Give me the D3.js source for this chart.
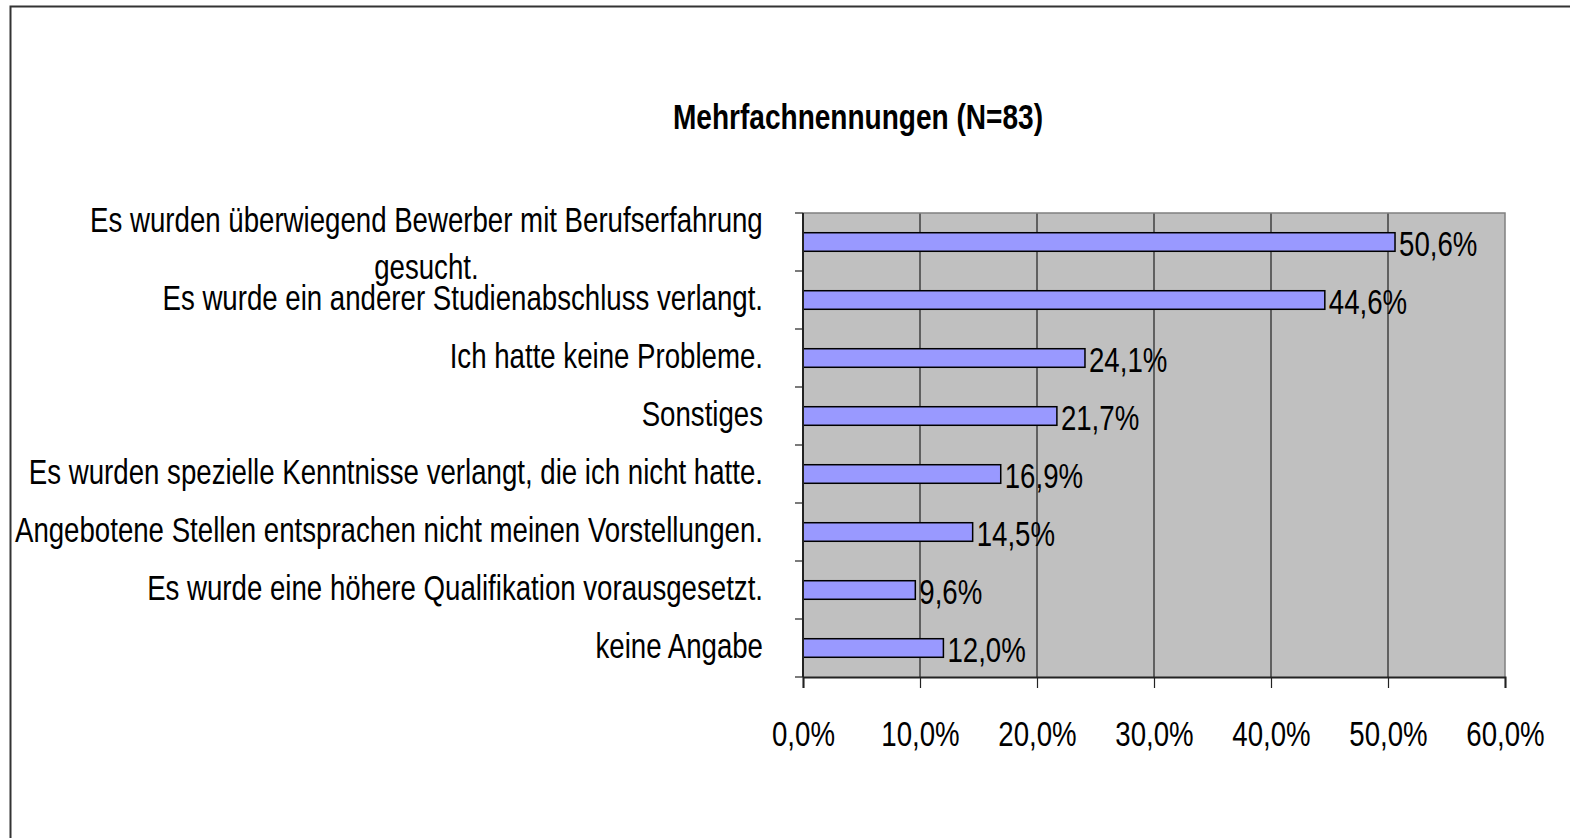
<!DOCTYPE html>
<html>
<head>
<meta charset="utf-8">
<script src="https://cdn.jsdelivr.net/npm/d3@7"></script>
<style>
    body { margin: 0; background: #fff; }
    svg { display: block; font-family: "Liberation Sans", Arial, sans-serif; }
</style>
</head>
<body>
<svg id="chart" width="1570" height="838"></svg>
<script>
// chart data
const categories = [
    'Es wurden überwiegend Bewerber mit Berufserfahrung gesucht.',
    'Es wurde ein anderer Studienabschluss verlangt.',
    'Ich hatte keine Probleme.',
    'Sonstiges',
    'Es wurden spezielle Kenntnisse verlangt, die ich nicht hatte.',
    'Angebotene Stellen entsprachen nicht meinen Vorstellungen.',
    'Es wurde eine höhere Qualifikation vorausgesetzt.',
    'keine Angabe'
];
const values = [50.6, 44.6, 24.1, 21.7, 16.9, 14.5, 9.6, 12.0];
const xTicks = [0, 10, 20, 30, 40, 50, 60];
const title = 'Mehrfachnennungen (N=83)';

const SX = 0.79; // text is drawn horizontally condensed
const fmt = v => v.toFixed(1).replace('.', ',') + '%';

const svg = d3.select('#chart');

// outer chart border
svg.append('rect')
    .attr('x', 10.5).attr('y', 6.5)
    .attr('width', 1700).attr('height', 1000)
    .attr('fill', 'none')
    .attr('stroke', '#333')
    .attr('stroke-width', 2);

const plotLeft = 803, plotRight = 1505, plotTop = 213, plotBottom = 677;

const x = d3.scaleLinear().domain([0, 60]).range([plotLeft, plotRight]);
const y = d3.scaleBand().domain(categories).range([plotTop, plotBottom])
    .paddingInner(0.68).paddingOuter(0.34);
const step = y.step();

// plot area
svg.append('rect')
    .attr('x', plotLeft).attr('y', plotTop)
    .attr('width', plotRight - plotLeft).attr('height', plotBottom - plotTop)
    .attr('fill', '#c0c0c0');

// gridlines
svg.append('g').selectAll('line')
    .data(xTicks.slice(1, -1))
    .join('line')
    .attr('x1', d => x(d)).attr('x2', d => x(d))
    .attr('y1', plotTop).attr('y2', plotBottom)
    .attr('stroke', '#000')
    .attr('stroke-width', 1);

// top / right border of plot area
svg.append('path')
    .attr('d', `M${plotLeft},${plotTop}H${plotRight}V${plotBottom}`)
    .attr('fill', 'none')
    .attr('stroke', '#808080')
    .attr('stroke-width', 1.5);

// bars
svg.append('g').selectAll('rect')
    .data(values)
    .join('rect')
    .attr('x', x(0))
    .attr('y', (d, i) => y(categories[i]))
    .attr('width', d => x(d) - x(0))
    .attr('height', y.bandwidth())
    .attr('fill', '#9999ff')
    .attr('stroke', '#000')
    .attr('stroke-width', 1.5);

// value labels
svg.append('g').selectAll('text')
    .data(values)
    .join('text')
    .attr('transform', (d, i) => `translate(${x(d) + 4},${y(categories[i]) + y.bandwidth() / 2 + 14}) scale(${SX},1)`)
    .attr('font-size', 35)
    .attr('fill', '#000')
    .text(d => fmt(d));

// x axis
const xAxis = svg.append('g')
    .attr('transform', `translate(0,${plotBottom})`)
    .call(d3.axisBottom(x).tickValues(xTicks).tickSize(11).tickPadding(58).tickFormat(fmt));
xAxis.select('.domain').attr('stroke', '#222').attr('stroke-width', 2);
xAxis.selectAll('.tick line').attr('stroke', '#222').attr('stroke-width', 1.2);
xAxis.selectAll('.tick text')
    .attr('font-family', '"Liberation Sans", Arial, sans-serif')
    .attr('font-size', 35)
    .attr('fill', '#000')
    .attr('dy', 0)
    .attr('transform', `scale(${SX},1)`);

// y axis line and ticks at band boundaries
svg.append('line')
    .attr('x1', plotLeft).attr('x2', plotLeft)
    .attr('y1', plotTop).attr('y2', plotBottom)
    .attr('stroke', '#222').attr('stroke-width', 2);
const bounds = categories.map(c => y(c) - (step - y.bandwidth()) / 2).concat([plotBottom]);
svg.append('g').selectAll('line')
    .data(bounds)
    .join('line')
    .attr('x1', plotLeft - 8).attr('x2', plotLeft)
    .attr('y1', d => d).attr('y2', d => d)
    .attr('stroke', '#222').attr('stroke-width', 1.2);

// category labels, wrapped and right aligned
const labelRight = 763, maxWidth = 770, lineH = 47;
const measure = svg.append('text').attr('font-size', 35).attr('visibility', 'hidden');
function textWidth(s) {
    measure.text(s);
    return measure.node().getComputedTextLength() * SX;
}
function wrap(s) {
    const words = s.split(' ');
    const lines = [];
    let line = '';
    words.forEach(w => {
        const test = line ? line + ' ' + w : w;
        if (line && textWidth(test) > maxWidth) {
            lines.push(line);
            line = w;
        } else {
            line = test;
        }
    });
    lines.push(line);
    return lines;
}

const labels = svg.append('g');
categories.forEach(c => {
    const lines = wrap(c);
    const cy = y(c) + y.bandwidth() / 2;
    const widest = d3.max(lines, textWidth);
    lines.forEach((ln, j) => {
        const by = cy + 10 + (j - (lines.length - 1) / 2) * lineH + (lines.length - 1) * 3;
        const multi = lines.length > 1;
        const tx = multi ? labelRight - widest / 2 : labelRight;
        labels.append('text')
            .attr('transform', `translate(${tx},${by}) scale(${SX},1)`)
            .attr('text-anchor', multi ? 'middle' : 'end')
            .attr('font-size', 35)
            .attr('fill', '#000')
            .text(ln);
    });
});
measure.remove();

// title
svg.append('text')
    .attr('transform', `translate(858,129) scale(${SX},1)`)
    .attr('text-anchor', 'middle')
    .attr('font-size', 35.5)
    .attr('font-weight', 'bold')
    .attr('fill', '#000')
    .text(title);
</script>
</body>
</html>
